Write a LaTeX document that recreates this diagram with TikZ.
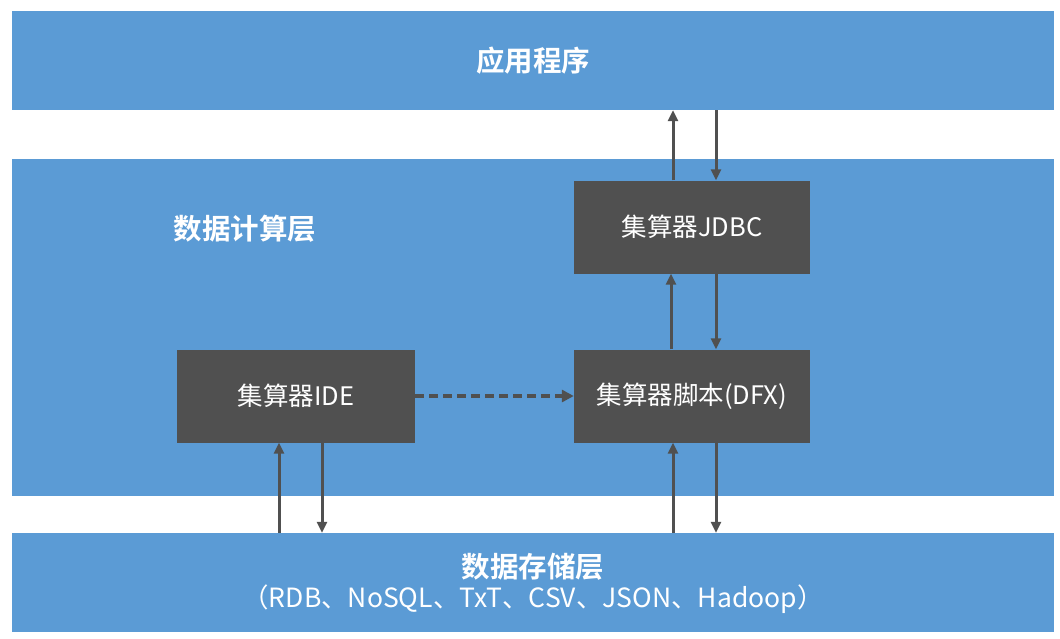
\documentclass[tikz,border=0pt]{standalone}
\usepackage{fontspec}
\setmainfont{Noto Sans CJK SC}
\newfontfamily\cjkbold{Noto Sans CJK SC Bold}
\usetikzlibrary{arrows.meta}
\definecolor{bandblue}{HTML}{5B9BD5}
\definecolor{boxgray}{HTML}{505050}
\tikzset{
  band/.style={fill=bandblue, inner sep=0pt, text=white},
  darkbox/.style={fill=boxgray, inner sep=0pt, minimum width=236pt, minimum height=93pt, text=white, font=\fontsize{25.5}{30}\selectfont},
  arr/.style={draw=boxgray, line width=3pt, -{Triangle[length=11pt,width=10pt]}},
  dasharr/.style={arr, line width=3.6pt, dash pattern=on 9pt off 5pt, -{Triangle[length=12pt,width=12pt]}},
  boldlabel/.style={text=white, font=\cjkbold\fontsize{28.5}{32}\selectfont}
}
\begin{document}
\begin{tikzpicture}[x=1pt,y=-1pt]
\useasboundingbox (0,0) rectangle (1060,638);
% bands
\node[band, minimum width=1042pt, minimum height=99pt] (app) at (533,60.5) {};
\node[band, minimum width=1042pt, minimum height=337pt] (calc) at (533,327.5) {};
\node[band, minimum width=1042pt, minimum height=99pt] (store) at (533,582.5) {};
% labels
\node[boldlabel] (applbl) at (533,61) {应用程序};
\node[boldlabel] (calclbl) at (245,229) {数据计算层};
\node[boldlabel] (storelbl) at (533,567) {数据存储层};
\node[text=white, font=\fontsize{26.5}{30}\selectfont] (storesub) at (533,599) {（RDB、NoSQL、TxT、CSV、JSON、Hadoop）};
% boxes
\node[darkbox] (jdbc) at (692,227) {集算器JDBC};
\node[darkbox] (dfx) at (692,396) {集算器脚本(DFX)};
\node[darkbox, minimum width=238pt] (ide) at (296,396) {集算器IDE};
% arrows
\draw[arr] ([xshift=-19pt]jdbc.north) -- ([xshift=-19pt]jdbc.north |- app.south);
\draw[arr] ([xshift=24pt]jdbc.north |- app.south) -- ([xshift=24pt]jdbc.north);
\draw[arr] ([xshift=-21pt]dfx.north) -- ([xshift=-21pt]jdbc.south);
\draw[arr] ([xshift=24pt]jdbc.south) -- ([xshift=24pt]dfx.north);
\draw[arr] ([xshift=-19pt]dfx.south |- store.north) -- ([xshift=-19pt]dfx.south);
\draw[arr] ([xshift=24pt]dfx.south) -- ([xshift=24pt]dfx.south |- store.north);
\draw[arr] ([xshift=-17pt]ide.south |- store.north) -- ([xshift=-17pt]ide.south);
\draw[arr] ([xshift=26pt]ide.south) -- ([xshift=26pt]ide.south |- store.north);
\draw[dasharr] (ide.east) -- (dfx.west);
\end{tikzpicture}
\end{document}
